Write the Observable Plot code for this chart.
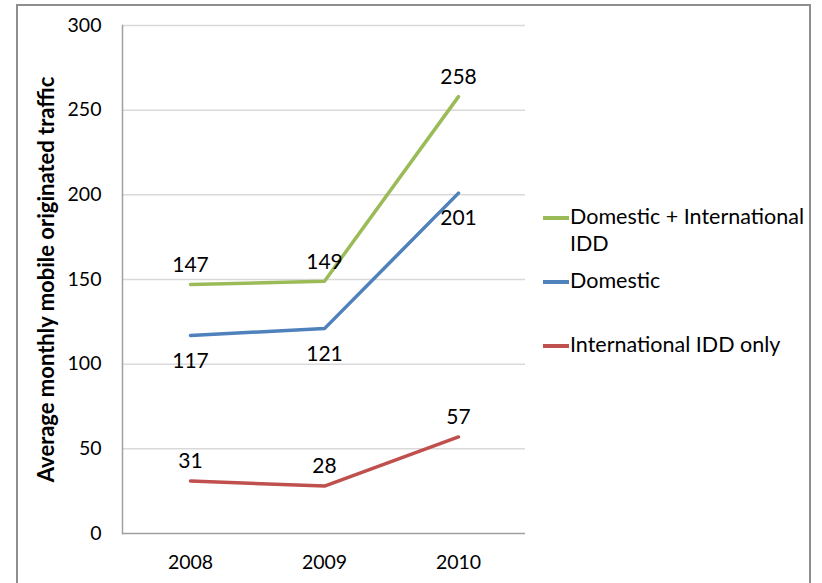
<!DOCTYPE html>
<html>
<head>
<meta charset="utf-8">
<script src="https://cdn.jsdelivr.net/npm/d3@7"></script>
<script src="https://cdn.jsdelivr.net/npm/@observablehq/plot@0.6"></script>
<style>
  html, body { margin: 0; padding: 0; background: #fff; overflow: hidden; }
  #wrap { position: relative; width: 822px; height: 583px; font-family: Lato, "Open Sans", sans-serif; }
  #frame { position: absolute; left: 16px; top: 4px; width: 795px; height: 640px; border: 2px solid #8e8e8e; box-sizing: border-box; pointer-events: none; }
  #chart { position: absolute; left: 0; top: 0; }
  #legend { position: absolute; left: 543px; top: 203px; font-size: 21.5px; color: #000; }
  .item { position: absolute; left: 0; white-space: nowrap; line-height: 27px; }
  .swatch { display: inline-block; width: 26px; height: 3.5px; vertical-align: top; margin-top: 13px; margin-right: 1px; }
  .txt { display: inline-block; vertical-align: top; }
</style>
</head>
<body>
<div id="wrap">
  <div id="chart"></div>
  <div id="legend"></div>
  <div id="frame"></div>
</div>
<script>
const years = ["2008", "2009", "2010"];
const seriesNames = ["Domestic + International IDD", "Domestic", "International IDD only"];
const totalValues = [147, 149, 258];
const domesticValues = [117, 121, 201];
const internationalValues = [31, 28, 57];
const yTicks = [0, 50, 100, 150, 200, 250, 300];
const yTitle = "Average monthly mobile originated traffic";

const seriesValues = [totalValues, domesticValues, internationalValues];
const colors = ["#9bbb59", "#4f81bd", "#c0504d"];
const labelDy = [-20, 25, -20];

const rows = [];
seriesNames.forEach((s, i) => {
  years.forEach((y, j) => rows.push({series: s, year: y, value: seriesValues[i][j], si: i}));
});

const chart = Plot.plot({
  width: 822,
  height: 583,
  marginLeft: 122,
  marginRight: 297,
  marginTop: 25,
  marginBottom: 50,
  style: {fontFamily: "Lato, 'Open Sans', sans-serif", fontSize: "19px", color: "#000", background: "transparent"},
  x: {type: "point", domain: years, padding: 0.5, label: null, tickSize: 0, tickPadding: 22},
  y: {domain: [0, 300], ticks: yTicks, label: null, tickSize: 0, tickPadding: 21},
  color: {domain: seriesNames, range: colors},
  marks: [
    Plot.ruleY(yTicks.filter(d => d > 0), {stroke: "#d9d9d9", strokeWidth: 1.5, strokeOpacity: 1}),
    Plot.ruleY([0], {stroke: "#a0a0a0", strokeWidth: 1.5}),
    Plot.frame({anchor: "left", stroke: "#a0a0a0", strokeWidth: 1.5}),
    Plot.axisX({tickSize: 0, tickPadding: 22, fontSize: 19.5}),
    Plot.axisY({ticks: yTicks, tickSize: 0, tickPadding: 21, fontSize: 19.5}),
    Plot.line(rows, {x: "year", y: "value", z: "series", stroke: "series", strokeWidth: 3.5, strokeLinejoin: "round", strokeLinecap: "round"}),
    Plot.text(rows, {x: "year", y: "value", text: d => String(d.value), fill: "#000", fontSize: 21,
      render: (index, scales, values, dims, context, next) => {
        const g = next(index, scales, values, dims, context);
        d3.select(g).selectAll("text").each(function(_, k) {
          const i = index[k];
          d3.select(this).attr("transform", null)
            .attr("y", values.y[i] + labelDy[rows[i].si]).attr("x", values.x[i]).attr("dy", "0.35em");
        });
        return g;
      }}),
    Plot.text([yTitle], {frameAnchor: "left", dx: -76, rotate: -90, textAnchor: "middle", fontWeight: "bold", fontSize: 22, fill: "#000"})
  ]
});
document.getElementById("chart").appendChild(chart);

const legend = document.getElementById("legend");
const legendTops = [0, 64, 128];
seriesNames.forEach((s, i) => {
  const item = document.createElement("div");
  item.className = "item";
  item.style.top = legendTops[i] + "px";
  const sw = document.createElement("span");
  sw.className = "swatch";
  sw.style.background = colors[i];
  const t = document.createElement("span");
  t.className = "txt";
  t.innerHTML = i === 0 ? "Domestic + International<br>IDD" : s;
  item.appendChild(sw);
  item.appendChild(t);
  legend.appendChild(item);
});
</script>
</body>
</html>
